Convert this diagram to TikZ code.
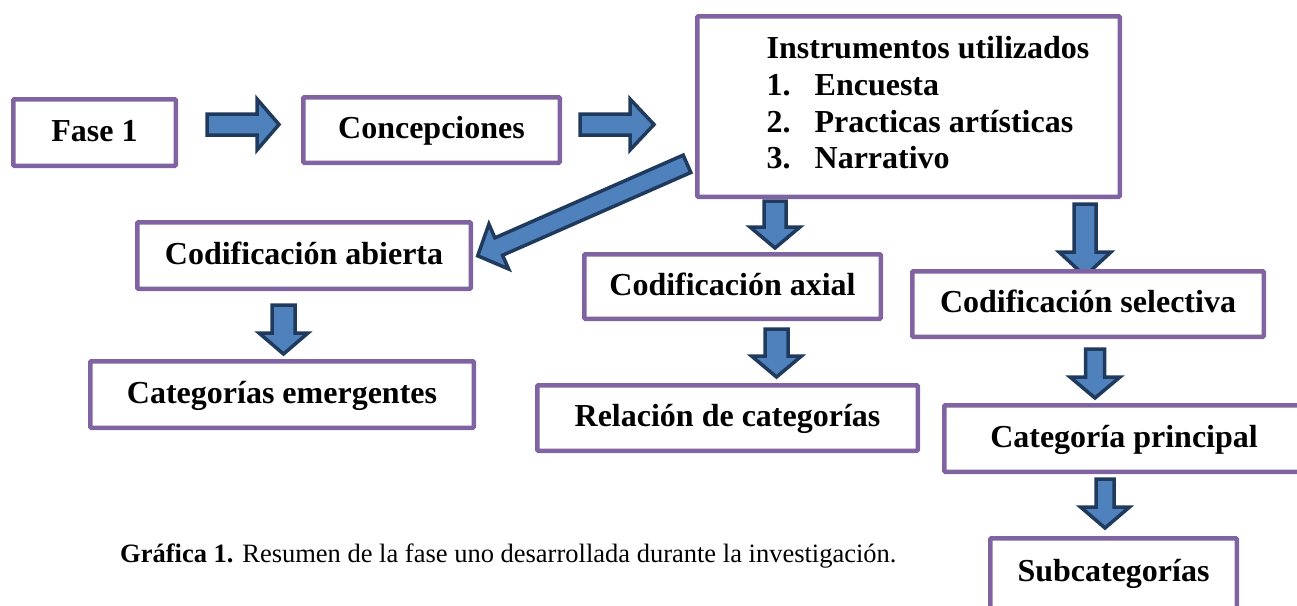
\documentclass[tikz,border=0pt]{standalone}
\usepackage{fontspec}
\setmainfont{Liberation Serif}
\usetikzlibrary{calc}
\definecolor{boxpurple}{HTML}{8064A2}
\definecolor{arrowfill}{HTML}{4F81BD}
\definecolor{arrowline}{HTML}{1F3A5C}
\newcommand\blkarrow[5]{%
  \coordinate (tmpB) at ($(#2)!#5!(#1)$);
  \draw[blockarrow] ($(#1)!#3!90:(#2)$) -- ($(tmpB)!#3!-90:(#1)$) -- ($(tmpB)!#4!-90:(#1)$) -- (#2)
     -- ($(tmpB)!#4!90:(#1)$) -- ($(tmpB)!#3!90:(#1)$) -- ($(#1)!#3!-90:(#2)$) -- cycle;}
\tikzset{
  stagebox/.style={draw=boxpurple, line width=4.5pt, fill=white, rectangle, rounded corners=1pt,
    font=\fontsize{32}{36.7}\selectfont\bfseries, text height=21pt, text depth=4pt, inner sep=0pt},
  blockarrow/.style={fill=arrowfill, draw=arrowline, line width=3.5pt, line join=miter},
  captiontext/.style={font=\fontsize{26.5}{30}\selectfont, anchor=base west, inner sep=0pt}
}
\begin{document}
\begin{tikzpicture}[x=1pt,y=-1pt]
\useasboundingbox (0,0) rectangle (1297,605);
% connectors (drawn first, boxes cover their tips)
\coordinate (a1s) at (207,124.5);   \coordinate (a1t) at (279,124.5);
\coordinate (a2s) at (580,124.5);   \coordinate (a2t) at (654,124.5);
\coordinate (a3s) at (687,163.8);   \coordinate (a3t) at (477.7,255.8);
\coordinate (a4s) at (775,201);     \coordinate (a4t) at (775,248);
\coordinate (a5s) at (1085,204);    \coordinate (a5t) at (1085,276);
\coordinate (a6s) at (283.5,305);   \coordinate (a6t) at (283.5,354);
\coordinate (a7s) at (776.5,329);   \coordinate (a7t) at (776.5,377);
\coordinate (a8s) at (1095,349);    \coordinate (a8t) at (1095,398);
\coordinate (a9s) at (1105,479);    \coordinate (a9t) at (1105,528);
% boxes
\node[stagebox, minimum width=162.5pt, minimum height=66.5pt] (fase) at (94.5,132.5) {Fase 1};
\node[stagebox, minimum width=256.5pt, minimum height=65.5pt] (conc) at (431.5,130) {Concepciones};
\node[stagebox, minimum width=333.5pt, minimum height=66.5pt] (abierta) at (304,255.5) {Codificación abierta};
\node[stagebox, minimum width=383.5pt, minimum height=66.5pt] (emerg) at (282,394.5) {Categorías emergentes};
\node[stagebox, minimum width=380.5pt, minimum height=65.5pt] (relac) at (727.5,418) {Relación de categorías};
\node[stagebox, minimum width=359.5pt, minimum height=66.5pt] (princ) at (1124,438.5) {Categoría principal};
\node[stagebox, minimum width=246.5pt, minimum height=78pt, text depth=13.5pt] (subc) at (1113.5,577.25) {Subcategorías};
\blkarrow{a4s}{a4t}{11pt}{25pt}{21pt}
\blkarrow{a5s}{a5t}{11pt}{26pt}{24pt}
\blkarrow{a6s}{a6t}{11.5pt}{24.5pt}{21pt}
\blkarrow{a7s}{a7t}{11.5pt}{25pt}{21pt}
\blkarrow{a8s}{a8t}{9.5pt}{25pt}{21pt}
\blkarrow{a9s}{a9t}{9pt}{24.5pt}{21pt}
\node[stagebox, minimum width=296.5pt, minimum height=64.5pt] (axial) at (732.5,286.5) {Codificación axial};
\node[stagebox, minimum width=351.5pt, minimum height=65.5pt] (select) at (1088,304) {Codificación selectiva};
\node[stagebox, minimum width=422.5pt, minimum height=180.5pt, text height=, text depth=] (instr) at (908.5,106.5)
  {\begin{tabular}{@{\hspace{39pt}}l@{}}
   Instrumentos utilizados\\
   \makebox[48pt][l]{1.}Encuesta\\
   \makebox[48pt][l]{2.}Practicas artísticas\\
   \makebox[48pt][l]{3.}Narrativo
   \end{tabular}};
\blkarrow{a1s}{a1t}{10.5pt}{25.5pt}{22pt}
\blkarrow{a2s}{a2t}{10.5pt}{25.5pt}{24pt}
\blkarrow{a3s}{a3t}{9.5pt}{24.5pt}{23pt}
% caption
\node[captiontext] (capt) at (120,562) {\textbf{Gráfica 1.} Resumen de la fase uno desarrollada durante la investigación.};
\end{tikzpicture}
\end{document}
